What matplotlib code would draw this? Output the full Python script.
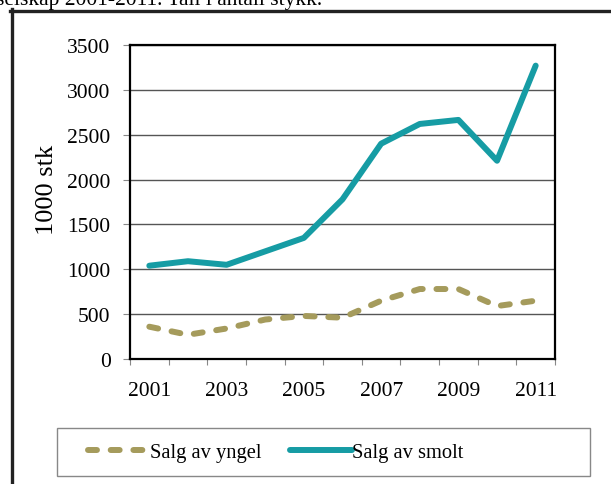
import numpy as np
import matplotlib.pyplot as plt
from matplotlib.lines import Line2D
from matplotlib.patches import Rectangle

# sales, 1000 stk
years = ['2001', '2002', '2003', '2004', '2005', '2006', '2007', '2008', '2009', '2010', '2011']
yngel = [360, 270, 340, 440, 480, 460, 650, 780, 780, 590, 650]
smolt = [1040, 1090, 1050, 1200, 1350, 1780, 2400, 2620, 2665, 2210, 3270]

W, H = 611, 485
plt.rcParams['font.family'] = ['Liberation Serif', 'DejaVu Serif']
plt.rcParams['font.size'] = 15.5

fig = plt.figure(figsize=(W/100, H/100), dpi=100)
ax = fig.add_axes([130/W, 1-360/H, 425/W, 314/H])

x = np.arange(len(years))
ax.plot(x, yngel, color='#a59b5c', lw=4.3, ls=(0, (1.5, 2.3)), dash_capstyle='round',
        solid_capstyle='round', label='Salg av yngel')
ax.plot(x, smolt, color='#169ca4', lw=4.3, solid_capstyle='round', label='Salg av smolt')

ax.set_ylim(0, 3500)
ax.set_yticks(np.arange(0, 3501, 500))
ax.yaxis.grid(True, color='#555555', lw=1)
ax.set_axisbelow(True)
ax.tick_params(axis='y', length=5, color='#888888', pad=9)

ax.set_xlim(-0.5, 10.5)
ax.set_xticks(np.arange(-0.5, 11, 1))
ax.set_xticklabels([])
ax.set_xticks(x[::2], minor=True)
ax.set_xticklabels(years[::2], minor=True)
ax.tick_params(axis='x', which='major', length=4, color='#888888')
ax.tick_params(axis='x', which='minor', length=0, pad=16)

for s in ax.spines.values():
    s.set_linewidth(1.6)
    s.set_color('black')

fig.text(47/W, 1-190/H, '1000 stk', rotation=90, ha='center', va='center', fontsize=19)

# legend box drawn separately (wider than its entries)
fig.add_artist(Rectangle((57/W, 1-477/H), 533/W, 48/H, transform=fig.transFigure,
                         fill=False, edgecolor='#888888', lw=1))
fig.legend(loc='center left', bbox_to_anchor=(88/W, 1-453/H), ncol=2, frameon=False,
           fontsize=14.8, handlelength=3.0, columnspacing=1.4, handletextpad=0.0,
           borderpad=0, borderaxespad=0)

# page border and cut-off caption above
fig.add_artist(Line2D([11.5/W, 11.5/W], [0, 1-10/H], color='#222222', lw=2.4))
fig.add_artist(Line2D([10/W, 1], [1-11.5/H, 1-11.5/H], color='#222222', lw=2.4))
fig.text(-4/W, 1-5/H, 'selskap 2001-2011. Tall i antall stykk.', ha='left', va='baseline',
         fontsize=15.5)

fig.savefig('out.png', dpi=100)
